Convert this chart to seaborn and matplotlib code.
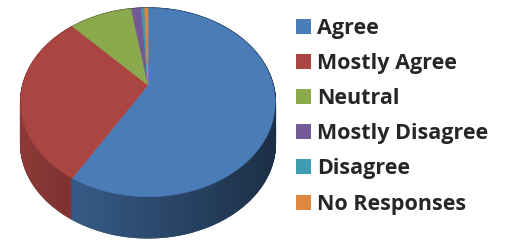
import numpy as np
import matplotlib
matplotlib.use("Agg")
import matplotlib.pyplot as plt
import seaborn as sns
from matplotlib.patches import Polygon, Patch
from matplotlib.colors import to_rgb

# survey answers, share of responses (%)
labels = ["Agree", "Mostly Agree", "Neutral", "Mostly Disagree", "Disagree", "No Responses"]
shares = [58.5, 29.5, 9.5, 1.5, 0.5, 0.5]
colors = ["#4A7CB8", "#AA4542", "#8BAA4D", "#735A97", "#3F9CB2", "#DD8741"]

sns.set_theme(style="white")
plt.rcParams["font.family"] = ["Open Sans", "DejaVu Sans"]

fig = plt.figure(figsize=(5.12, 2.43), dpi=100)
ax = fig.add_axes([0, 0, 1, 1])
ax.set_xlim(0, 512)
ax.set_ylim(243, 0)
ax.axis("off")

# 3d pie in pixel space, with a little perspective
cx, cy = 148, 85
rx, ry = 125, 91
persp = 0.185
depth = 41


def project(t, drop=0.0):
    u, v = np.sin(t), np.cos(t)  # t runs clockwise from 12 o'clock
    w = 1 + persp * v
    return np.column_stack([cx + rx * u / w, cy - ry * v / w + drop])


fracs = np.array(shares) / np.sum(shares)
edges = np.concatenate([[0], np.cumsum(fracs)]) * 2 * np.pi

# side wall: small quads, back to front, darker to the right
segs = []
for i in range(len(shares)):
    n = max(2, int(np.ceil((edges[i + 1] - edges[i]) / 0.01)))
    ts = np.linspace(edges[i], edges[i + 1], n + 1)
    for t0, t1 in zip(ts[:-1], ts[1:]):
        segs.append((np.cos((t0 + t1) / 2), t0, t1, i))
segs.sort(key=lambda s: -s[0])
for _, t0, t1, i in segs:
    top = project(np.array([t0, t1]))
    bot = project(np.array([t1, t0]), depth)
    xm = top[:, 0].mean()
    f = 0.82 - 0.44 * np.clip((xm - 23) / 252, 0, 1)
    c = tuple(np.array(to_rgb(colors[i])) * f)
    ax.add_patch(Polygon(np.vstack([top, bot]), closed=True, facecolor=c, edgecolor=c,
                         lw=1.2, joinstyle="miter"))

# top face
for i in range(len(shares)):
    ts = np.linspace(edges[i], edges[i + 1], max(3, int((edges[i + 1] - edges[i]) / 0.01)))
    pts = np.vstack([[cx, cy], project(ts)])
    ax.add_patch(Polygon(pts, closed=True, facecolor=colors[i], edgecolor=colors[i], lw=0.4))

handles = [Patch(facecolor=c, edgecolor="none", label=l) for c, l in zip(colors, labels)]
ax.legend(handles=handles, loc="upper left", bbox_to_anchor=(287 / 512, 1 - 9 / 243),
          frameon=False, prop={"weight": "bold", "size": 15.5}, handlelength=0.7,
          handleheight=0.7, handletextpad=0.3, labelspacing=0.66, borderaxespad=0)

fig.savefig("out.png", dpi=100)
